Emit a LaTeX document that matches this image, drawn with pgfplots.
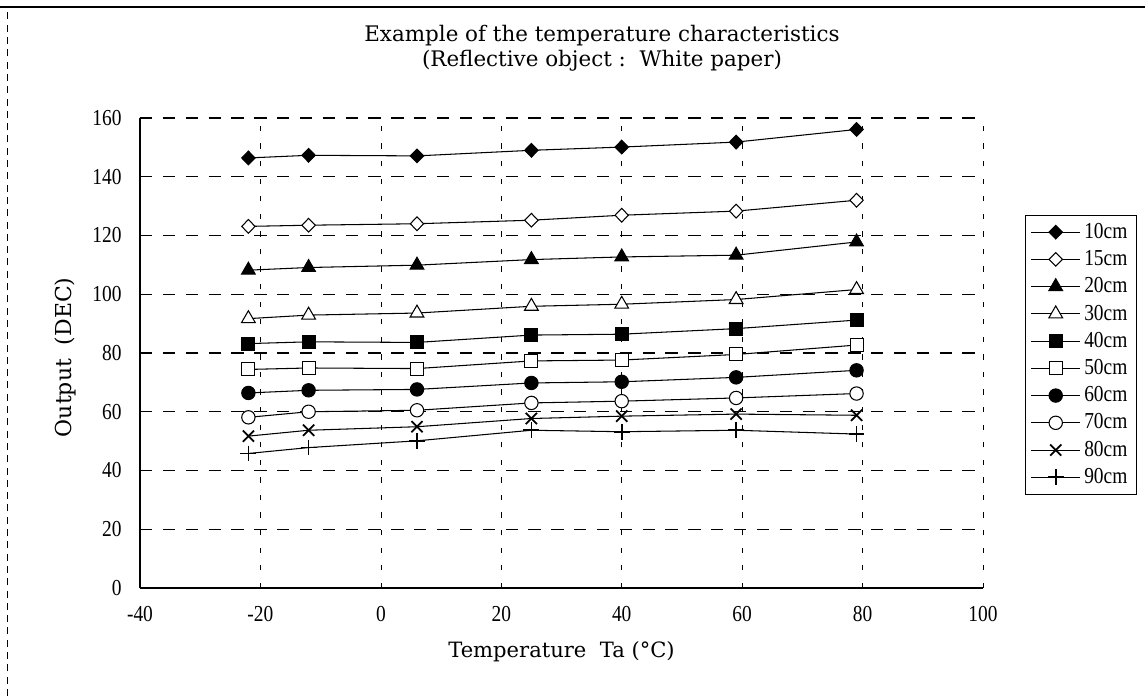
\documentclass[border=0pt]{standalone}
\usepackage{fontspec}
\setmainfont{Liberation Serif}
\newfontfamily\labelfont{DejaVu Serif}
\newfontfamily\tickfont[FakeStretch=0.85]{Liberation Serif}
\usepackage{pgfplots}
\usepackage{pgfplotstable}
\pgfplotsset{compat=1.18}

% output at the sensor
\pgfplotstableread{
t   d10   d15   d20   d30   d40  d50  d60  d70  d80  d90
-22 146.4 123.1 108.2 91.7  83.2 74.4 66.4 58.1 51.7 45.8
-12 147.3 123.5 109.1 92.9  83.8 74.9 67.3 60.0 53.7 47.8
6   147.1 124.0 109.9 93.6  83.6 74.7 67.6 60.5 54.9 50.1
25  149.0 125.2 111.8 95.9  86.1 77.3 69.8 63.0 57.7 53.7
40  150.1 126.9 112.7 96.6  86.4 77.6 70.2 63.6 58.5 53.2
59  151.8 128.3 113.3 98.2  88.3 79.5 71.7 64.7 59.2 53.7
79  156.1 132.0 117.8 101.6 91.2 82.7 74.1 66.2 58.8 52.4
}\datatable

\pgfplotsset{
  ser/.style={black, line width=0.6pt, mark options={solid, line width=1pt}},
}

\begin{document}
\begin{tikzpicture}
\path[use as bounding box] (0,0) rectangle (22.9,13.92);
\draw[line width=0.8pt] (0,13.78) -- (22.9,13.78);
\draw[line width=0.4pt, dash pattern=on 4pt off 3pt] (0.14,0) -- (0.14,13.78);
\begin{axis}[
    at={(2.80cm,2.16cm)}, anchor=south west,
    scale only axis,
    width=16.86cm, height=9.40cm,
    xmin=-40, xmax=100, ymin=0, ymax=160,
    xtick={-40,-20,...,100},
    ytick={0,20,...,160},
    axis x line*=bottom, axis y line*=left,
    axis line style={-, line width=0.8pt},
    tick style={draw=none},
    grid=major,
    x grid style={black, line width=0.4pt, dash pattern=on 3pt off 7pt},
    y grid style={black, line width=0.6pt, dash pattern=on 7pt off 6pt},
    /pgf/number format/assume math mode=true,
    ticklabel style={font=\tickfont\fontsize{13}{15}\selectfont},
    xticklabel style={yshift=-7pt},
    yticklabel style={xshift=-7pt},
    title={Example of the temperature characteristics\\(Reflective object :\ \ White paper)},
    title style={at={(0.548,1.1266)}, anchor=center, align=center,
        font=\labelfont\fontsize{12.2}{14}\selectfont},
    xlabel={Temperature\ \ Ta (°C)},
    xlabel style={at={(0.5,-0.136)}, anchor=center,
        font=\labelfont\fontsize{12}{14}\selectfont},
    ylabel={Output\ \ (DEC)},
    ylabel style={at={(-0.089,0.491)}, anchor=center,
        font=\labelfont\fontsize{12.5}{14}\selectfont},
    legend style={at={(1.0498,0.7936)}, anchor=north west,
        draw=black, line width=0.5pt,
        font=\tickfont\fontsize{13}{15}\selectfont,
        row sep=0.5pt, inner xsep=3pt, inner ysep=2pt,
        nodes={inner sep=2pt, text height=9pt, text depth=2pt}},
    legend cell align=left,
    legend image code/.code={
        \draw[mark repeat=2, mark phase=2, #1]
            plot coordinates {(0cm,0cm) (0.49cm,0cm) (0.98cm,0cm)};},
]
\addplot[ser, mark=diamond*, mark size=3.9pt, mark options={fill=black, xscale=1.3}]
    table[x=t, y=d10] {\datatable};
\addplot[ser, mark=diamond*, mark size=3.9pt, mark options={fill=white, xscale=1.3}]
    table[x=t, y=d15] {\datatable};
\addplot[ser, mark=triangle*, mark size=4.5pt, mark options={fill=black}]
    table[x=t, y=d20] {\datatable};
\addplot[ser, mark=triangle*, mark size=4.5pt, mark options={fill=white}]
    table[x=t, y=d30] {\datatable};
\addplot[ser, mark=square*, mark size=3.7pt, mark options={fill=black}]
    table[x=t, y=d40] {\datatable};
\addplot[ser, mark=square*, mark size=3.7pt, mark options={fill=white}]
    table[x=t, y=d50] {\datatable};
\addplot[ser, mark=*, mark size=3.8pt, mark options={fill=black}]
    table[x=t, y=d60] {\datatable};
\addplot[ser, mark=*, mark size=3.8pt, mark options={fill=white}]
    table[x=t, y=d70] {\datatable};
\addplot[ser, mark=x, mark size=4.5pt]
    table[x=t, y=d80] {\datatable};
\addplot[ser, mark=+, mark size=4.5pt]
    table[x=t, y=d90] {\datatable};
\legend{10cm,15cm,20cm,30cm,40cm,50cm,60cm,70cm,80cm,90cm}
\end{axis}
\end{tikzpicture}
\end{document}
